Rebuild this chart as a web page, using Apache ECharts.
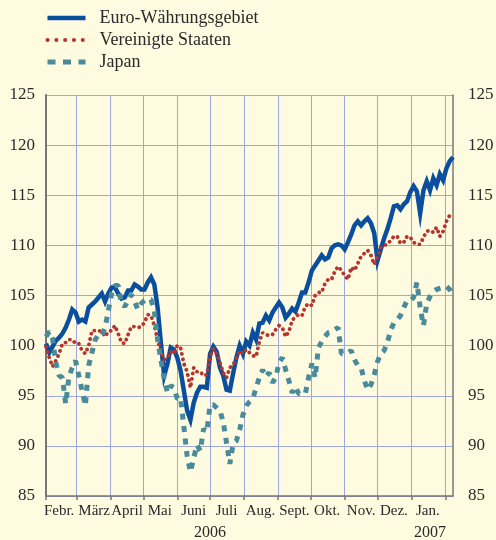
<!DOCTYPE html>
<html>
<head>
<meta charset="utf-8">
<script src="https://cdn.jsdelivr.net/npm/echarts@6/dist/echarts.min.js"></script>
<style>
  html, body { margin: 0; padding: 0; background: #fffbe0; }
  #echart { width: 496px; height: 540px; }
</style>
</head>
<body>
<div id="echart"></div>
<script>
var dom = document.getElementById("echart");
var myChart = echarts.init(dom);

// index values, one reading every 3 days starting 1 Feb 2006
const startYear = 2006, startMonth = 1, startDay = 1, dayStep = 3;

// prettier-ignore
const euro = [100.2, 99.3, 99.9, 100.5, 100.8, 101.2, 101.8, 102.6, 103.6, 103.3, 102.4, 102.6, 102.4, 103.8, 104.1, 104.4, 104.8, 105.2, 104.4, 105.2,
  105.8, 105.8, 105.2, 104.7, 104.8, 105.5, 105.5, 106.1, 105.9, 105.6, 105.6, 106.3, 106.8, 106.1, 103.8, 100.3, 97.0, 98.2, 99.8, 99.6,
  98.8, 97.5, 95.5, 93.5, 92.6, 94.3, 95.3, 95.9, 95.9, 95.8, 99.2, 99.9, 99.4, 97.8, 97.0, 95.6, 95.5, 97.2, 98.8, 100.0,
  99.2, 100.4, 100.0, 101.3, 100.6, 102.2, 102.3, 103.0, 102.5, 103.3, 103.8, 104.3, 103.8, 102.8, 103.2, 103.7, 103.4, 104.3, 105.3, 105.3,
  106.3, 107.5, 108.0, 108.5, 109.0, 108.6, 108.8, 109.7, 110.0, 110.1, 110.0, 109.6, 110.3, 111.1, 112.0, 112.4, 112.0, 112.4, 112.7, 112.2,
  111.2, 108.5, 109.6, 110.7, 111.6, 112.7, 113.9, 114.0, 113.6, 114.1, 114.4, 115.3, 115.9, 115.4, 113.2, 115.5, 116.4, 115.5, 116.7, 116.0,
  117.1, 116.5, 117.7, 118.4, 118.8];
// prettier-ignore
const usa = [99.9, 98.8, 97.9, 98.5, 99.2, 100.2, 100.3, 100.6, 100.6, 100.2, 100.2, 99.5, 99.2, 100.0, 101.5, 101.5, 101.5, 101.4, 100.9, 101.4,
  101.5, 102.0, 101.2, 100.3, 100.2, 101.1, 101.9, 101.9, 101.8, 101.9, 102.3, 103.1, 103.0, 102.0, 100.6, 99.3, 98.6, 98.8, 99.4, 99.2,
  100.0, 99.8, 98.2, 97.4, 95.8, 97.8, 97.4, 97.4, 97.0, 97.1, 98.9, 99.7, 99.2, 98.3, 97.3, 96.8, 97.8, 98.1, 98.7, 99.5,
  99.2, 99.6, 99.3, 99.0, 98.9, 100.4, 101.3, 101.1, 101.0, 101.1, 101.6, 102.0, 101.8, 100.9, 101.4, 102.5, 102.9, 103.1, 103.0, 103.9,
  104.2, 104.0, 105.0, 105.3, 105.3, 106.2, 106.6, 106.6, 107.4, 107.9, 107.5, 107.0, 106.6, 107.8, 107.5, 108.2, 108.9, 109.2, 109.5, 109.0,
  108.1, 108.9, 109.8, 110.0, 110.1, 110.5, 110.9, 110.9, 110.2, 110.3, 110.9, 110.8, 110.3, 110.1, 110.1, 110.8, 111.4, 111.5, 111.3, 111.8,
  110.9, 111.4, 112.4, 113.0, null];
// prettier-ignore
const japan = [100.9, 101.4, 100.7, 98.3, 97.0, 96.8, 94.2, 96.9, 97.8, 98.5, 97.0, 95.5, 94.0, 98.0, 99.3, 100.6, 101.1, 101.0, 101.8, 103.5,
  105.2, 106.0, 106.0, 104.2, 103.9, 104.5, 105.1, 104.4, 103.6, 104.2, 104.5, 104.6, 104.6, 103.5, 100.6, 98.6, 96.7, 95.3, 96.0, 95.8,
  94.7, 94.8, 91.9, 89.0, 87.4, 88.8, 90.1, 89.5, 91.7, 91.4, 94.1, 94.1, 93.8, 93.5, 92.4, 90.3, 88.2, 90.2, 90.5, 91.6,
  93.1, 94.0, 94.4, 94.7, 95.8, 96.8, 97.6, 96.9, 97.3, 96.3, 96.8, 98.3, 98.8, 97.6, 96.5, 95.3, 95.9, 95.2, 95.2, 95.2,
  96.8, 98.2, 96.8, 99.8, 100.4, 100.9, 101.3, 101.4, 101.6, 101.8, 99.2, 99.2, 99.3, 99.5, 98.6, 98.0, 97.8, 96.5, 95.6, 96.1,
  97.1, 98.4, 99.2, 99.5, 100.3, 101.5, 102.3, 102.6, 103.0, 103.8, 104.5, 104.5, 104.8, 106.3, 103.8, 102.0, 104.2, 104.9, 105.4, 105.6,
  105.7, 105.8, 105.9, 105.6, 105.0];

const seriesNames = ['Euro-Währungsgebiet', 'Vereinigte Staaten', 'Japan'];
const monthLabels = ['Febr.', 'März', 'April', 'Mai', 'Juni', 'Juli', 'Aug.', 'Sept.', 'Okt.', 'Nov.', 'Dez.', 'Jan.'];
const yearLabels = ['2006', '2007'];
const yTicks = { min: 85, max: 125, interval: 5 };

function day(y, m, d) { return Date.UTC(y, m, d); }

const dates = euro.map(function (_, i) { return day(startYear, startMonth, startDay + i * dayStep); });
// label anchor (day of month) for each month name
const labelDay = [13.5, 17, 16, 16, 16, 16, 16, 16, 16, 16, 16, 16];
const monthStarts = [];
const monthMids = [];
for (let k = 0; k <= 12; k++) {
    monthStarts.push(day(2006, 1 + k, 1));
    if (k < 12) monthMids.push(day(2006, 1 + k, labelDay[k]));
}
const yearPos = [day(2006, 6, 1), day(2007, 0, 18)];
const xMin = day(2006, 1, 1);
const xMax = day(2007, 1, 8);

function pairs(vals) {
    return vals.map(function (v, i) { return [dates[i], v]; });
}

const fontFamily = '"Liberation Serif", "DejaVu Serif", serif';
const textColor = '#2a2a2a';
const gridColor = '#9ea7dc';
const axisColor = '#777777';
const colors = ['#0a4f9d', '#b5352e', '#4a8b9b'];

var option = {
    animation: false,
    backgroundColor: '#fffbe0',
    textStyle: { fontFamily: fontFamily },
    grid: {
        left: 46,
        right: 43,
        top: 95,
        bottom: 44,
        outerBoundsMode: 'none'
    },
    legend: {
        orient: 'vertical',
        left: 45,
        top: 9,
        padding: 0,
        itemWidth: 38,
        itemHeight: 14,
        itemGap: 4,
        selectedMode: false,
        itemStyle: { opacity: 0 },
        textStyle: {
            fontFamily: fontFamily,
            fontSize: 18,
            color: textColor,
            padding: [0, 0, 0, 9]
        },
        data: [
            { name: seriesNames[0], lineStyle: { color: colors[0], width: 4.5, type: 'solid' } },
            { name: seriesNames[1], lineStyle: { color: colors[1], width: 4, type: [0.1, 8.7], cap: 'round' } },
            { name: seriesNames[2], lineStyle: { color: colors[2], width: 5, type: [8, 7.5], cap: 'butt' } }
        ]
    },
    xAxis: [
        {
            type: 'value',
            min: xMin,
            max: xMax,
            axisLine: { show: true, lineStyle: { color: axisColor, width: 1.5 } },
            axisTick: {
                show: true,
                customValues: monthStarts,
                length: 4,
                lineStyle: { color: axisColor, width: 1.5 }
            },
            splitLine: { show: true, lineStyle: { color: gridColor, width: 1 } },
            axisLabel: {
                customValues: monthMids,
                showMinLabel: true,
                showMaxLabel: true,
                hideOverlap: false,
                margin: 8,
                fontSize: 15,
                color: textColor,
                fontFamily: fontFamily,
                formatter: function (value) {
                    let idx = 0;
                    for (let k = 0; k < monthMids.length; k++) {
                        if (Math.abs(monthMids[k] - value) < 86400000 * 2) idx = k;
                    }
                    return monthLabels[idx];
                }
            }
        },
        {
            type: 'value',
            min: xMin,
            max: xMax,
            position: 'bottom',
            offset: 21,
            axisLine: { show: false },
            axisTick: { show: false },
            splitLine: { show: false },
            axisLabel: {
                customValues: yearPos,
                showMinLabel: true,
                showMaxLabel: true,
                margin: 8,
                fontSize: 16,
                color: textColor,
                fontFamily: fontFamily,
                formatter: function (value) {
                    return value < day(2007, 0, 1) ? yearLabels[0] : yearLabels[1];
                }
            }
        }
    ],
    yAxis: [
        {
            type: 'value',
            position: 'left',
            min: yTicks.min,
            max: yTicks.max,
            interval: yTicks.interval,
            axisLine: { show: true, lineStyle: { color: axisColor, width: 2 } },
            axisTick: { show: false },
            splitLine: { show: true, lineStyle: { color: gridColor, width: 1 } },
            axisLabel: { margin: 11, fontSize: 17, color: textColor, fontFamily: fontFamily }
        },
        {
            type: 'value',
            position: 'right',
            min: yTicks.min,
            max: yTicks.max,
            interval: yTicks.interval,
            axisLine: { show: true, lineStyle: { color: axisColor, width: 1.5 } },
            axisTick: { show: false },
            splitLine: { show: false },
            axisLabel: { margin: 15, fontSize: 17, color: textColor, fontFamily: fontFamily }
        }
    ],
    series: [
        {
            name: seriesNames[0],
            type: 'line',
            symbol: 'none',
            data: pairs(euro),
            lineStyle: { color: colors[0], width: 4.5, join: 'miter' },
            itemStyle: { color: colors[0] }
        },
        {
            name: seriesNames[1],
            type: 'line',
            symbol: 'none',
            data: pairs(usa),
            lineStyle: { color: colors[1], width: 3.8, type: [0.1, 5.4], cap: 'round' },
            itemStyle: { color: colors[1] }
        },
        {
            name: seriesNames[2],
            type: 'line',
            symbol: 'none',
            data: pairs(japan),
            lineStyle: { color: colors[2], width: 5, type: [6, 6.5], cap: 'butt' },
            itemStyle: { color: colors[2] }
        }
    ]
};

if (option && typeof option === 'object') {
    myChart.setOption(option);
}

window.addEventListener('resize', function () {
    myChart.resize();
});
</script>
</body>
</html>
